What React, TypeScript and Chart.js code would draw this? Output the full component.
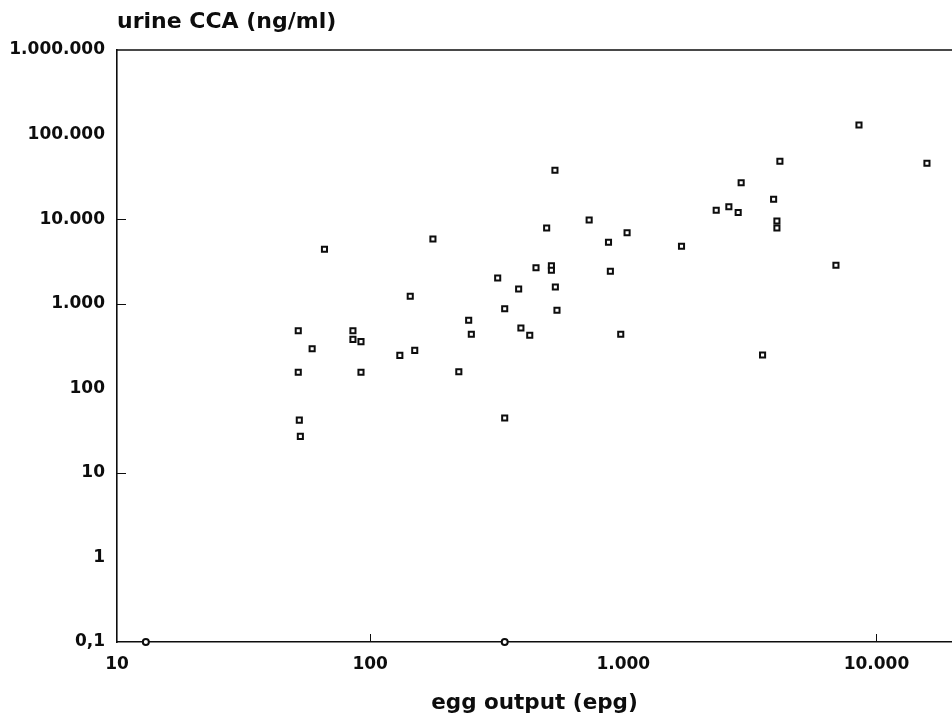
import React, { useEffect, useRef } from 'react';
import { Chart, registerables } from 'chart.js';

Chart.register(...registerables);

// egg output (epg) per subject
const eggOutput = [
  13, 340, 52, 52, 52.5, 53, 59, 66, 85.5, 85.5,
  92, 92, 131, 150, 144, 177, 224, 245, 251, 319,
  340, 340, 386, 394, 427, 452, 498, 520, 520, 537,
  539, 547, 733, 874, 889, 977, 1035, 1698, 2328, 2612,
  2843, 2921, 3549, 3924, 4044, 4044, 4155, 6918, 8530, 15830,
];
// urine CCA (ng/ml) per subject
const urineCCA = [
  0.1, 0.1, 480, 155, 42, 27, 294, 4400, 480, 379,
  356, 155, 245, 281, 1224, 5822, 157, 637, 435, 2014,
  873, 44.5, 1492, 516, 423, 2666, 7856, 2814, 2484, 37800,
  1577, 836, 9770, 5322, 2416, 435, 6914, 4773, 12720, 14030,
  11980, 26970, 247, 17160, 9506, 7856, 48300, 2845, 129800, 45760,
];

const xTickValues = [10, 100, 1000, 10000];
const xTickLabels = ['10', '100', '1.000', '10.000'];
const yTickValues = [0.1, 1, 10, 100, 1000, 10000, 100000, 1000000];
const yTickLabels = ['0,1', '1', '10', '100', '1.000', '10.000', '100.000', '1.000.000'];
const leftInnerTicks = [10, 1000, 10000];
const bottomInnerTicks = [100, 10000];

const xTitle = 'egg output (epg)';
const yTitle = 'urine CCA (ng/ml)';

const FONT = '"DejaVu Sans", "Liberation Sans", sans-serif';
const INK = '#0d0d0d';

export default function App() {
  const ref = useRef<HTMLCanvasElement>(null);

  useEffect(() => {
    const canvas = ref.current;
    if (!canvas) return;

    const framePlugin = {
      id: 'frame',
      afterDraw(chart: any) {
        const { ctx, chartArea, scales } = chart;
        ctx.save();
        ctx.strokeStyle = INK;
        ctx.lineWidth = 1.6;
        ctx.beginPath();
        ctx.moveTo(chartArea.left - 0.8, chartArea.top);
        ctx.lineTo(chart.width, chartArea.top);
        ctx.stroke();

        ctx.lineWidth = 1;
        ctx.beginPath();
        leftInnerTicks.forEach((v) => {
          const y = Math.round(scales.y.getPixelForValue(v)) + 0.5;
          ctx.moveTo(chartArea.left, y);
          ctx.lineTo(chartArea.left + 9, y);
        });
        bottomInnerTicks.forEach((v) => {
          const x = Math.round(scales.x.getPixelForValue(v)) + 0.5;
          ctx.moveTo(x, chartArea.bottom);
          ctx.lineTo(x, chartArea.bottom - 8);
        });
        ctx.stroke();

        ctx.font = `bold 22px ${FONT}`;
        ctx.fillStyle = INK;
        ctx.textAlign = 'left';
        ctx.textBaseline = 'alphabetic';
        ctx.fillText(yTitle, chartArea.left, 28);
        ctx.restore();
      },
    };

    const chart = new Chart(canvas, {
      type: 'scatter',
      data: {
        datasets: [
          {
            data: eggOutput.map((x, i) => ({ x, y: urineCCA[i] })),
            pointStyle: (c: any) => (c.raw && c.raw.y <= 0.1 ? 'circle' : 'rect'),
            pointRadius: (c: any) => (c.raw && c.raw.y <= 0.1 ? 3 : 3.6),
            borderColor: INK,
            backgroundColor: '#ffffff',
            borderWidth: 2,
            clip: false,
          } as any,
        ],
      },
      options: {
        responsive: false,
        animation: false,
        devicePixelRatio: 1,
        layout: { autoPadding: false, padding: { top: 50, left: 0, right: 0, bottom: 0 } },
        plugins: {
          legend: { display: false },
          tooltip: { enabled: false },
          title: { display: false },
        },
        scales: {
          x: {
            type: 'logarithmic',
            min: 10,
            max: 19880,
            afterBuildTicks: (s: any) => {
              s.ticks = xTickValues.map((value) => ({ value }));
            },
            afterFit: (s: any) => {
              s.height = 80;
              s.paddingLeft = 0;
              s.paddingRight = 0;
            },
            grid: { display: true, drawOnChartArea: false, drawTicks: false },
            border: { display: true, color: INK, width: 1.6 },
            ticks: {
              autoSkip: false,
              maxRotation: 0,
              padding: 12,
              color: INK,
              font: { family: FONT, weight: 'bold', size: 17 },
              callback: (_v: any, i: number) => xTickLabels[i],
            },
            title: {
              display: true,
              text: xTitle,
              color: INK,
              font: { family: FONT, weight: 'bold', size: 21.5 },
              padding: { top: 0, bottom: 6 },
            },
          },
          y: {
            type: 'logarithmic',
            min: 0.1,
            max: 1000000,
            afterBuildTicks: (s: any) => {
              s.ticks = yTickValues.map((value) => ({ value }));
            },
            afterFit: (s: any) => {
              s.width = 117;
            },
            grid: { display: true, drawOnChartArea: false, drawTicks: false },
            border: { display: true, color: INK, width: 1.6 },
            ticks: {
              autoSkip: false,
              padding: 12,
              color: INK,
              font: { family: FONT, weight: 'bold', size: 17 },
              callback: (_v: any, i: number) => yTickLabels[i],
            },
          },
        },
      } as any,
      plugins: [framePlugin],
    });

    return () => chart.destroy();
  }, []);

  return (
    <div style={{ position: 'fixed', left: 0, top: 0, width: 952, height: 722, background: '#ffffff' }}>
      <canvas ref={ref} width={952} height={722} style={{ display: 'block' }} />
    </div>
  );
}
